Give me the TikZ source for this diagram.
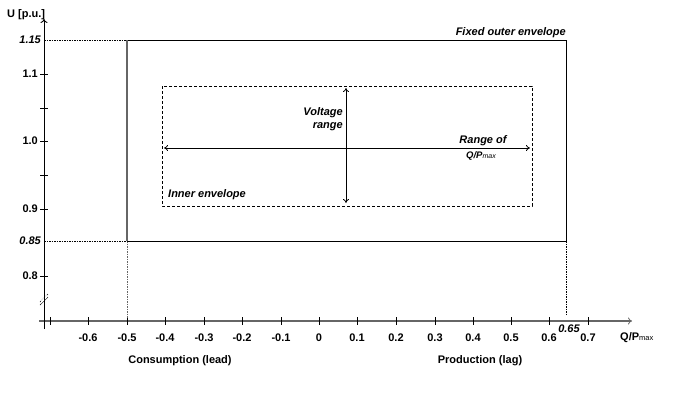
\documentclass[tikz,border=0pt]{standalone}
\usepackage{fontspec}
\setmainfont{Liberation Sans}
\usetikzlibrary{arrows.meta}
\begin{document}
\begin{tikzpicture}[x=1pt,y=-1pt,
  lbl/.style={font=\fontsize{11}{12.5}\selectfont\bfseries, inner sep=0pt},
  ilbl/.style={font=\fontsize{11}{12.5}\selectfont\bfseries\itshape, inner sep=0pt},
  axisx/.style={draw=black!60, line width=1.6pt},
  axisy/.style={draw=black, line width=0.9pt},
  tick/.style={draw=black, line width=0.8pt},
  guide/.style={draw=black, line width=0.6pt, dash pattern=on 1.5pt off 1pt},
  gguide/.style={draw=black!60, line width=0.9pt, dash pattern=on 1.5pt off 1pt},
  inner/.style={draw=black, line width=0.8pt, dash pattern=on 3pt off 2pt},
  darr/.style={draw=black, line width=0.8pt, {To[length=4pt,width=6pt]}-{To[length=4pt,width=6pt]}}]
\useasboundingbox (0,0) rectangle (678,394);
% axes
\coordinate (xs) at (39,321);
\coordinate (xe) at (632,321);
\coordinate (ys) at (44,329);
\coordinate (ye) at (44,19);
\draw[axisx,-{To[length=4pt,width=7pt,line width=0.8pt]}] (xs) -- (xe);
\draw[axisy,-{To[length=4pt,width=7pt]}] (ys) -- (ye);
% break mark
\draw[line width=0.7pt] (40,302) -- (48,294);
\draw[line width=0.7pt] (40,305) -- (48,297);
\fill[white] (41,300.5) -- (47,294.5) -- (47,297.5) -- (41,303.5) -- cycle;
\draw[axisy] (44,296) -- (44,303);
% x ticks
\foreach \xx/\t in {88/-0.6,127/-0.5,165/-0.4,204/-0.3,242/-0.2,281/-0.1,319/0,357/0.1,396/0.2,435/0.3,473/0.4,511/0.5,549/0.6,588/0.7}{
  \draw[tick] (\xx,317) -- (\xx,325);
  \node[lbl] (xl\xx) at (\xx,338) {\t};
}
\draw[tick] (50,317) -- (50,325);
% y ticks
\foreach \yy in {74,108,141,175,209,276}{
  \draw[tick] (40,\yy) -- (48,\yy);
}
\node[lbl,anchor=east] (y11) at (38,74) {1.1};
\node[lbl,anchor=east] (y10) at (38,141) {1.0};
\node[lbl,anchor=east] (y09) at (38,209) {0.9};
\node[lbl,anchor=east] (y08) at (38,276) {0.8};
\node[ilbl,anchor=east] (y115) at (41,40) {1.15};
\node[ilbl,anchor=east] (y085) at (41,241) {0.85};
\node[lbl,anchor=west] (ylab) at (7,15) {U [p.u.]};
\node[lbl,anchor=west] (xlab) at (620,338) {Q/P{\fontsize{7.5}{9}\selectfont\mdseries max}};
\node[ilbl] (x065) at (569,329) {0.65};
\node[lbl] (cons) at (180,361) {Consumption (lead)};
\node[lbl] (prod) at (480,361) {Production (lag)};
% outer envelope
\coordinate (otl) at (127,40);
\coordinate (otr) at (566,40);
\coordinate (obr) at (566,241);
\coordinate (obl) at (127,241);
\draw[guide] (44,40) -- (otl);
\draw[guide] (44,241) -- (obl);
\draw[gguide] (obl) -- (127,318);
\draw[guide] (obr) -- (566,316);
\draw[black, line width=0.8pt] (otl) -- (otr) -- (obr) -- (obl);
\draw[black!60, line width=1.3pt] (obl) -- (otl);
\node[ilbl,anchor=south east] (outerlbl) at (566,37.5) {Fixed outer envelope};
% inner envelope
\draw[inner] (162,86) rectangle (532,206);
\node[ilbl,anchor=west] (innerlbl) at (168,195) {Inner envelope};
\coordinate (hl) at (164,148);
\coordinate (hr) at (530,148);
\coordinate (vt) at (346,88);
\coordinate (vb) at (346,203);
\draw[darr] (hl) -- (hr);
\draw[darr] (vt) -- (vb);
\node[ilbl,anchor=east,align=right] (vr) at (343,119) {Voltage\\range};
\node[ilbl] (rangeof) at (483,141) {Range of};
\node[ilbl,font=\fontsize{9.5}{11}\selectfont\bfseries\itshape] (qp) at (481,156) {Q/P{\fontsize{7}{8}\selectfont\mdseries max}};
\end{tikzpicture}
\end{document}
